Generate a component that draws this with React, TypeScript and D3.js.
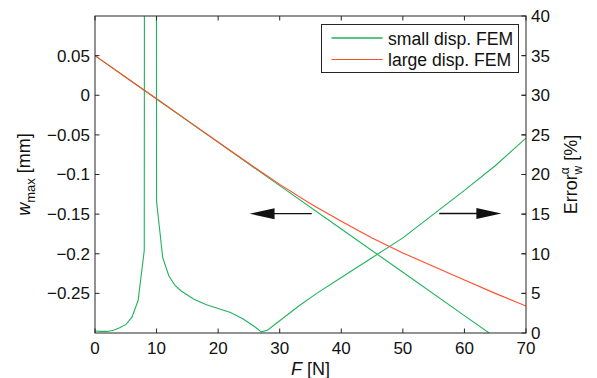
import React from 'react';
import * as d3 from 'd3';

// load F [N]
const xTicks = [0, 10, 20, 30, 40, 50, 60, 70];

// left axis: w_max [mm]
const wTicks = [0.05, 0, -0.05, -0.1, -0.15, -0.2, -0.25];
const wTickLabels = ['0.05', '0', '\u22120.05', '\u22120.1', '\u22120.15', '\u22120.2', '\u22120.25'];

// right axis: error [%]
const errTicks = [0, 5, 10, 15, 20, 25, 30, 35, 40];

// small displacement FEM (linear in F)
const smallF = [0, 10, 20, 30, 40, 50, 60, 70];
const smallW = [0.05, -0.0047, -0.0594, -0.1141, -0.1688, -0.2234, -0.2781, -0.3328];

// large displacement FEM
const largeF = [0, 5, 10, 15, 20, 25, 30, 35, 40, 45, 50, 55, 60, 65, 70];
const largeW = [0.05, 0.0227, -0.0045, -0.0317, -0.059, -0.0862, -0.1125, -0.137, -0.159, -0.18, -0.199, -0.216, -0.233, -0.25, -0.266];

// error of the small displacement solution (F = 9 N is far off scale)
const errF = [0, 1, 2, 3, 4, 5, 6, 7, 8, 9, 10, 11, 12, 13, 14, 15, 16, 17, 18, 20, 22, 24, 26, 27, 28, 30, 33, 36, 40, 45, 50, 55, 60, 65, 70];
const errV = [0.25, 0.2, 0.2, 0.35, 0.65, 1.05, 2.0, 4.1, 10.4, 1200, 16.6, 9.5, 7.2, 6.0, 5.3, 4.8, 4.3, 3.95, 3.6, 3.1, 2.6, 1.8, 0.75, 0.15, 0.35, 1.55, 3.35, 5.0, 7.0, 9.5, 12.0, 15.0, 18.0, 21.1, 24.6];

const legendItems = ['small disp. FEM', 'large disp. FEM'];

const W = 597;
const H = 378;
const margin = { top: 16, right: 71, bottom: 45, left: 95 };
const GREEN = '#1fb35c';
const RED = '#ff4f2a';
const AXIS = '#262626';
const FONT = '"Liberation Sans", Arial, Helvetica, sans-serif';

const App = () => {
  const x0 = margin.left;
  const x1 = W - margin.right;
  const y0 = H - margin.bottom;
  const y1 = margin.top;

  const xScale = d3.scaleLinear().domain([0, 70]).range([x0, x1]);
  const wScale = d3.scaleLinear().domain([-0.3, 0.1]).range([y0, y1]);
  const eScale = d3.scaleLinear().domain([0, 40]).range([y0, y1]);

  const wLine = d3.line<[number, number]>()
    .x(d => xScale(d[0]))
    .y(d => wScale(d[1]));
  const eLine = d3.line<[number, number]>()
    .x(d => xScale(d[0]))
    .y(d => eScale(d[1]));

  const smallPath = wLine(smallF.map((f, i) => [f, smallW[i]]));
  const largePath = wLine(largeF.map((f, i) => [f, largeW[i]]));
  const errPath = eLine(errF.map((f, i) => [f, errV[i]]));

  const tick = 4.5;

  // arrows: left one points at the w axis, right one at the error axis
  const leftArrow = { from: xScale(35.2), to: xScale(25.1), y: wScale(-0.1494) };
  const rightArrow = { from: xScale(55.9), to: xScale(66.0), y: eScale(15.08) };
  const head = 25;
  const half = 5.5;

  return (
    <svg
      width={W}
      height={H}
      style={{ position: 'absolute', left: 0, top: 0, background: '#fff' }}
      fontFamily={FONT}
    >
      <defs>
        <clipPath id="plotClip">
          <rect x={x0} y={y1} width={x1 - x0} height={y0 - y1} />
        </clipPath>
      </defs>

      <g clipPath="url(#plotClip)" fill="none" strokeWidth={1.1}>
        <path d={errPath} stroke={GREEN} />
        <path d={smallPath} stroke={GREEN} />
        <path d={largePath} stroke={RED} />
      </g>

      {/* arrows */}
      <g>
        <line x1={leftArrow.from} x2={leftArrow.to + head - 2} y1={leftArrow.y} y2={leftArrow.y} stroke="#111" strokeWidth={1.3} />
        <polygon
          points={`${leftArrow.to},${leftArrow.y} ${leftArrow.to + head},${leftArrow.y - half} ${leftArrow.to + head},${leftArrow.y + half}`}
          fill="#111"
        />
        <line x1={rightArrow.from} x2={rightArrow.to - head + 2} y1={rightArrow.y} y2={rightArrow.y} stroke="#111" strokeWidth={1.3} />
        <polygon
          points={`${rightArrow.to},${rightArrow.y} ${rightArrow.to - head},${rightArrow.y - half} ${rightArrow.to - head},${rightArrow.y + half}`}
          fill="#111"
        />
      </g>

      {/* axes box */}
      <rect x={x0} y={y1} width={x1 - x0} height={y0 - y1} fill="none" stroke={AXIS} strokeWidth={1} />

      {/* ticks, all pointing inward */}
      <g stroke={AXIS}>
        {xTicks.map(t => (
          <g key={`xt${t}`}>
            <line x1={xScale(t)} x2={xScale(t)} y1={y0} y2={y0 - tick} />
            <line x1={xScale(t)} x2={xScale(t)} y1={y1} y2={y1 + tick} />
          </g>
        ))}
        {wTicks.map(t => (
          <g key={`wt${t}`}>
            <line x1={x0} x2={x0 + tick} y1={wScale(t)} y2={wScale(t)} />
            <line x1={x1} x2={x1 - tick} y1={wScale(t)} y2={wScale(t)} />
          </g>
        ))}
        {errTicks.map(t => (
          <line key={`et${t}`} x1={x1} x2={x1 - tick} y1={eScale(t)} y2={eScale(t)} />
        ))}
      </g>

      <g fontSize={17} fill="#111">
        {xTicks.map(t => (
          <text key={`xl${t}`} x={xScale(t)} y={y0 + 21} textAnchor="middle">{t}</text>
        ))}
        {wTicks.map((t, i) => (
          <text key={`wl${t}`} x={x0 - 5} y={wScale(t)} dy="0.35em" textAnchor="end">{wTickLabels[i]}</text>
        ))}
        {errTicks.map(t => (
          <text key={`el${t}`} x={x1 + 5} y={eScale(t)} dy="0.35em" textAnchor="start">{t}</text>
        ))}
      </g>

      {/* axis labels */}
      <text x={(x0 + x1) / 2} y={375} textAnchor="middle" fontSize={18} fill="#111">
        <tspan fontStyle="italic">F</tspan>
        <tspan> [N]</tspan>
      </text>
      <text transform={`translate(30, ${(y0 + y1) / 2}) rotate(-90)`} textAnchor="middle" fontSize={18} fill="#111">
        <tspan fontStyle="italic">w</tspan>
        <tspan fontSize={13} dy={5}>max</tspan>
        <tspan dy={-5}> [mm]</tspan>
      </text>
      <text transform={`translate(577, ${(y0 + y1) / 2}) rotate(-90)`} textAnchor="middle" fontSize={18} fill="#111">
        <tspan>Error</tspan>
        <tspan fontSize={12} dy={-8}>{'\u03b1'}</tspan>
        <tspan fontSize={12} dx={-7} dy={13}>w</tspan>
        <tspan dy={-5}> [%]</tspan>
      </text>

      {/* legend */}
      <g>
        <rect x={321.5} y={24.5} width={197} height={48} fill="#fff" stroke={AXIS} strokeWidth={1} />
        {legendItems.map((name, i) => (
          <g key={name}>
            <line x1={331.5} x2={382.5} y1={38 + i * 21.5} y2={38 + i * 21.5} stroke={i === 0 ? GREEN : RED} strokeWidth={i === 0 ? 1.6 : 1.1} />
            <text x={388} y={44.5 + i * 21.5} fontSize={17.6} fill="#111">{name}</text>
          </g>
        ))}
      </g>
    </svg>
  );
};

export default App;
